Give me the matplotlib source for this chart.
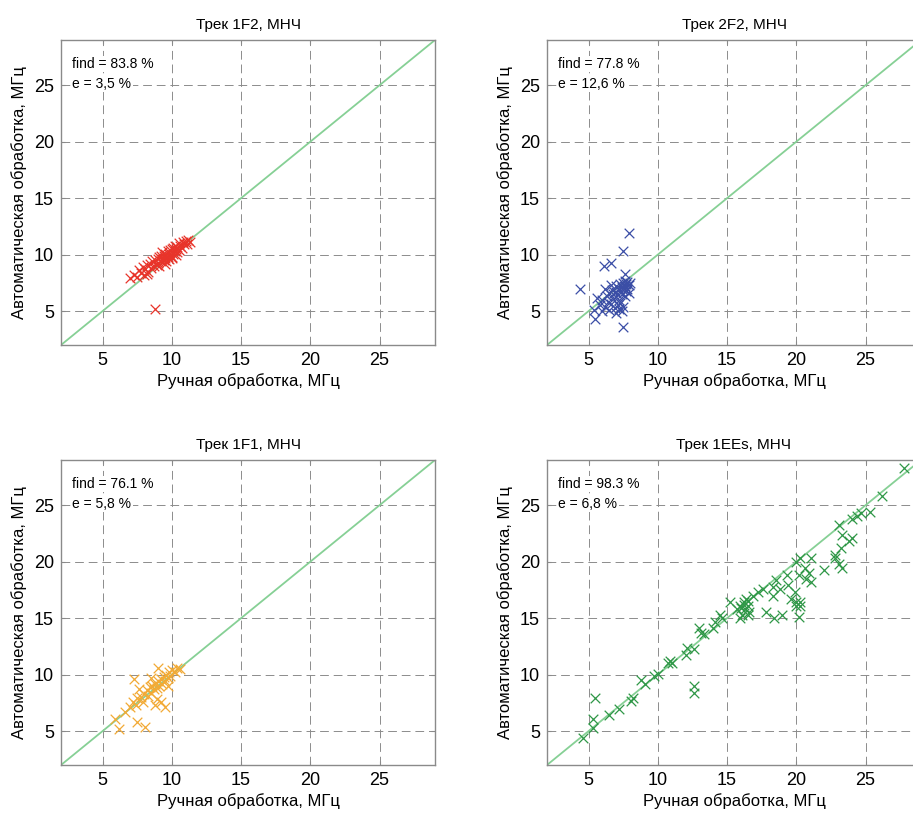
import numpy as np
import matplotlib
matplotlib.use('Agg')
import matplotlib.pyplot as plt

plt.rcParams['font.family'] = ['Liberation Sans', 'DejaVu Sans']

# Трек 1F2
x_1f2 = [7.0, 7.3, 7.5, 7.6, 7.8, 7.9, 8.0, 8.1, 8.2, 8.3, 8.4, 8.5, 8.6, 8.7, 8.8,
         8.9, 9.0, 9.0, 9.1, 9.2, 9.2, 9.3, 9.3, 9.4, 9.4, 9.5, 9.5, 9.6, 9.6, 9.7,
         9.7, 9.8, 9.8, 9.9, 9.9, 10.0, 10.0, 10.1, 10.1, 10.2, 10.2, 10.3, 10.3, 10.4,
         10.5, 10.5, 10.6, 10.7, 10.8, 10.9, 11.0, 11.1, 11.2, 11.3, 8.8, 9.5, 10.0,
         8.2, 9.1, 10.4]
y_1f2 = [7.9, 8.2, 8.0, 8.6, 8.4, 8.9, 8.2, 8.7, 9.1, 8.5, 9.2, 8.8, 9.4, 9.0, 9.5,
         9.1, 9.6, 9.3, 9.8, 9.4, 9.9, 9.6, 10.2, 9.5, 9.9, 9.7, 10.1, 9.4, 10.0, 9.8,
         10.3, 9.6, 10.1, 10.0, 10.4, 9.8, 10.5, 10.1, 10.6, 10.3, 10.8, 10.5, 10.0, 10.7,
         10.4, 11.0, 10.8, 10.6, 11.1, 10.9, 11.2, 10.9, 11.3, 11.1, 5.2, 9.2, 9.7,
         8.3, 9.0, 10.2]

# Трек 2F2
x_2f2 = [4.4, 5.5, 5.4, 6.1, 6.6, 7.5, 7.95, 7.5, 7.6, 5.8, 6.0, 6.2, 6.3, 6.4, 6.5,
         6.6, 6.7, 6.8, 6.9, 7.0, 7.0, 7.1, 7.1, 7.2, 7.2, 7.3, 7.3, 7.3, 7.4, 7.4,
         7.5, 7.5, 7.5, 7.6, 7.6, 7.7, 7.7, 7.8, 7.8, 7.9, 8.0, 6.0, 5.6, 6.2, 6.5,
         6.8, 7.2, 7.4, 7.0, 7.6, 7.9, 6.6]
y_2f2 = [7.0, 4.3, 5.1, 9.0, 9.3, 10.3, 11.9, 3.6, 8.3, 5.5, 6.0, 5.4, 6.3, 5.8, 6.6,
         5.6, 6.9, 6.1, 5.3, 6.7, 7.2, 5.5, 6.4, 7.0, 5.2, 6.8, 7.4, 5.7, 7.1, 6.5,
         7.5, 5.4, 6.9, 7.2, 7.7, 6.8, 7.4, 7.0, 7.6, 7.3, 7.5, 5.0, 6.2, 7.0, 5.1,
         6.5, 6.0, 5.0, 4.8, 6.3, 6.6, 7.3]

# Трек 1F1
x_1f1 = [5.9, 6.2, 6.6, 7.0, 7.2, 7.4, 7.5, 7.5, 7.3, 7.6, 7.8, 7.9, 8.0, 8.1, 8.2,
         8.3, 8.4, 8.5, 8.6, 8.7, 8.8, 8.8, 8.9, 9.0, 9.0, 9.1, 9.2, 9.3, 9.4, 9.5,
         9.5, 9.6, 9.7, 9.8, 9.9, 10.0, 10.2, 10.4, 10.6, 9.2, 8.9, 8.5, 9.7]
y_1f1 = [6.1, 5.2, 6.7, 7.1, 7.6, 7.3, 7.9, 5.8, 9.6, 8.7, 8.0, 7.6, 8.3, 5.4, 8.6,
         8.1, 8.9, 8.4, 9.0, 8.7, 9.2, 7.3, 8.8, 9.4, 10.6, 9.0, 9.6, 9.2, 9.8, 9.4,
         7.1, 10.0, 9.7, 10.2, 9.9, 10.4, 10.2, 10.6, 10.5, 7.6, 7.8, 9.7, 9.0]

# Трек 1EEs
x_1ees = [4.6, 5.3, 5.3, 5.45, 7.2, 6.5, 8.2, 8.1, 8.8, 9.7, 10.7, 11.05, 10.9, 12.0,
          12.1, 12.6, 12.6, 12.6, 12.95, 13.3, 13.1, 14.0, 14.1, 14.5, 14.6, 15.2,
          15.7, 15.9, 16.05, 16.2, 16.4, 16.5, 16.6, 16.9, 16.3, 15.9, 16.5, 17.2,
          17.6, 17.8, 18.3, 18.3, 18.55, 18.4, 19.0, 18.8, 19.3, 19.4, 19.6, 19.9,
          20.0, 20.0, 20.2, 20.3, 20.3, 20.6, 20.7, 20.9, 21.05, 21.05, 20.2, 20.0,
          20.3, 22.0, 22.8, 22.8, 23.1, 23.3, 23.2, 23.3, 23.8, 24.0, 23.1, 24.0,
          24.4, 24.7, 25.3, 26.2, 27.8, 16.2, 16.0, 16.5, 9.1, 10.0]
y_1ees = [4.35, 5.3, 6.1, 7.9, 7.0, 6.4, 7.9, 7.7, 9.5, 9.9, 11.0, 11.0, 11.25, 11.7,
          12.4, 12.3, 9.0, 8.4, 14.1, 13.6, 13.7, 14.1, 14.7, 15.25, 15.0, 16.4,
          15.8, 16.1, 15.25, 16.4, 16.7, 16.1, 15.55, 17.0, 15.8, 15.0, 15.25, 17.3,
          17.6, 15.55, 17.8, 17.0, 18.4, 15.0, 15.25, 17.6, 18.8, 17.9, 16.7, 17.3,
          16.4, 20.0, 18.8, 20.3, 16.4, 19.4, 18.5, 19.0, 20.3, 18.2, 15.1, 16.1,
          16.1, 19.25, 20.3, 20.6, 19.8, 19.4, 21.2, 22.4, 21.8, 22.1, 23.25, 23.8,
          24.0, 24.3, 24.4, 25.8, 28.3, 16.2, 15.9, 16.5, 9.2, 10.1]

titles = ['Трек 1F2, МНЧ', 'Трек 2F2, МНЧ', 'Трек 1F1, МНЧ', 'Трек 1EEs, МНЧ']
find_txt = ['find = 83.8 %', 'find = 77.8 %', 'find = 76.1 %', 'find = 98.3 %']
err_txt = ['e = 3,5 %', 'e = 12,6 %', 'e = 5,8 %', 'e = 6,8 %']
colors = ['#e8342a', '#3b4ea6', '#f2aa35', '#2f9747']
series = [(x_1f2, y_1f2), (x_2f2, y_2f2), (x_1f1, y_1f1), (x_1ees, y_1ees)]
ticks = [5, 10, 15, 20, 25]
lim = (2, 29)

fig = plt.figure(figsize=(9.13, 8.19), dpi=100)
W, H = 913, 819
# рамки осей в пикселях: left, top, right, bottom
boxes = [(61, 40, 435, 345), (547, 40, 921, 345),
         (61, 460, 435, 765), (547, 460, 921, 765)]

for i, (l, t, r, b) in enumerate(boxes):
    ax = fig.add_axes([l / W, 1 - b / H, (r - l) / W, (b - t) / H])
    ax.set_xlim(*lim)
    ax.set_ylim(*lim)
    ax.plot(lim, lim, color='#86d095', lw=1.3, zorder=2)
    xs, ys = series[i]
    ax.scatter(xs, ys, marker='x', s=48, color=colors[i], linewidths=0.9, zorder=3)
    ax.set_xticks(ticks)
    ax.set_yticks(ticks)
    ax.grid(True, color='#8c8c8c', linestyle=(0, (9, 5)), linewidth=0.7, zorder=1)
    ax.set_axisbelow(True)
    for s in ax.spines.values():
        s.set_color('#8a8a8a')
        s.set_linewidth(1.0)
    ax.tick_params(direction='in', length=3, color='#8a8a8a', labelsize=13, pad=5,
                   top=True, right=True)
    ax.set_title(titles[i], fontsize=11, pad=8)
    ax.set_xlabel('Ручная обработка, МГц', fontsize=12, labelpad=3)
    ax.set_ylabel('Автоматическая обработка, МГц', fontsize=12, labelpad=5)
    bb = dict(facecolor='white', edgecolor='none', pad=1)
    ax.text(0.03, 0.921, find_txt[i], transform=ax.transAxes, fontsize=10,
            va='center', ha='left', bbox=bb, zorder=4)
    ax.text(0.03, 0.856, err_txt[i], transform=ax.transAxes, fontsize=10,
            va='center', ha='left', bbox=bb, zorder=4)

fig.savefig('out.png', dpi=100)
